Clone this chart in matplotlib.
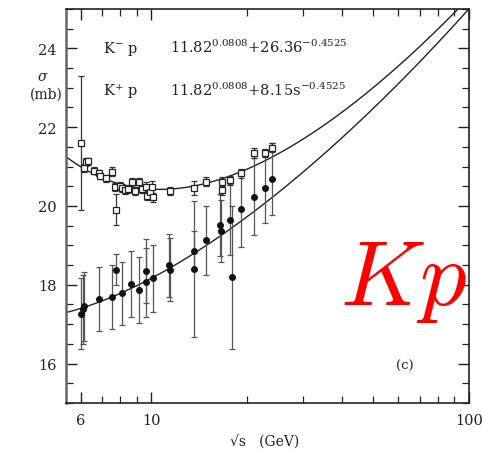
import numpy as np
import matplotlib
matplotlib.use("Agg")
import matplotlib.pyplot as plt
from matplotlib.ticker import FixedLocator, MultipleLocator, NullFormatter

# K- p total cross section (open squares)
km_rts = [6.02, 6.14, 6.24, 6.33, 6.63, 6.84, 6.91, 7.21, 7.55, 7.71, 7.77,
          7.99, 8.13, 8.29, 8.49, 8.70, 8.91, 9.17, 9.35, 9.62, 9.69, 9.93,
          10.09, 10.17, 11.47, 13.69, 14.93, 16.66, 16.66, 17.69, 19.24,
          21.08, 22.78, 24.01]
km_sig = [21.60, 20.96, 21.11, 21.13, 20.90, 20.83, 20.76, 20.70, 20.87, 20.48, 19.91,
          20.52, 20.45, 20.41, 20.43, 20.60, 20.39, 20.60, 20.43, 20.48, 20.26, 20.35,
          20.48, 20.22, 20.39, 20.46, 20.62, 20.62, 20.41, 20.65, 20.83,
          21.34, 21.35, 21.48]
km_err = [1.70, 0.10, 0.10, 0.10, 0.08, 0.08, 0.08, 0.08, 0.12, 0.10, 0.40,
          0.10, 0.10, 0.10, 0.10, 0.12, 0.10, 0.12, 0.10, 0.12, 0.12, 0.12,
          0.15, 0.12, 0.10, 0.17, 0.12, 0.12, 0.12, 0.12, 0.12,
          0.12, 0.10, 0.12]

# K+ p total cross section (filled points)
kp_rts = [6.02, 6.10, 6.17, 6.84, 7.52, 7.75, 8.11, 8.65, 9.17, 9.66, 9.66,
          10.13, 11.35, 11.50, 13.64, 13.64, 14.93, 16.43, 16.64, 17.69,
          17.99, 19.22, 21.06, 22.78, 24.01]
kp_sig = [17.27, 17.38, 17.45, 17.65, 17.69, 18.38, 17.78, 18.03, 17.87, 18.35, 18.06,
          18.16, 18.50, 18.38, 18.87, 18.40, 19.13, 19.52, 19.36, 19.65,
          18.19, 19.93, 20.24, 20.46, 20.69]
kp_err = [0.91, 0.87, 0.87, 0.81, 0.81, 0.39, 0.81, 0.84, 0.83, 0.81, 0.87,
          0.84, 0.80, 0.80, 0.50, 1.72, 0.88, 0.78, 0.78, 0.90,
          1.82, 0.97, 0.98, 0.90, 0.92]

# fit: sigma = X s^eps + Y s^-eta
X, eps, eta = 11.82, 0.0808, 0.4525
Y_km, Y_kp = 26.36, 8.15

fig = plt.figure(figsize=(4.82, 4.52), dpi=100)
ax = fig.add_axes([66/482, 1-404/452, 403/482, 394/452])
ax.set_xscale("log")
ax.set_xlim(5.4, 100)
ax.set_ylim(15, 25)

rts = np.geomspace(5.4, 100, 300)
s = rts**2
ax.plot(rts, X*s**eps + Y_km*s**(-eta), color="#222222", lw=1.0)
ax.plot(rts, X*s**eps + Y_kp*s**(-eta), color="#222222", lw=1.0)

ax.errorbar(kp_rts, kp_sig, yerr=kp_err, fmt="o", ms=4, mfc="#111111", mec="#111111",
            ecolor="#555555", elinewidth=0.9, capsize=2.5, capthick=0.9)
ax.errorbar(km_rts, km_sig, yerr=km_err, fmt="s", ms=3.8, mfc="white", mec="#222222",
            mew=0.9, ecolor="#333333", elinewidth=0.9, capsize=2.5, capthick=0.9)

# axes, ticks
ax.xaxis.set_major_locator(FixedLocator([6, 10, 100]))
ax.xaxis.set_minor_locator(FixedLocator([7, 8, 9, 20, 30, 40, 50, 60, 70, 80, 90]))
ax.xaxis.set_minor_formatter(NullFormatter())
ax.set_xticklabels(["6", "10", "100"])
ax.yaxis.set_major_locator(MultipleLocator(2))
ax.yaxis.set_minor_locator(MultipleLocator(0.5))
ax.tick_params(which="both", direction="in", top=True, right=True, color="#222222")
ax.tick_params(which="major", length=8, width=1.0, labelsize=10.5, pad=7)
ax.tick_params(which="minor", length=5, width=0.9)
for lab in ax.get_xticklabels() + ax.get_yticklabels():
    lab.set_family("DejaVu Serif")
    lab.set_color("#222222")
for side in ["top", "right", "bottom"]:
    ax.spines[side].set_linewidth(1.2)
    ax.spines[side].set_color("#222222")
ax.spines["left"].set_linewidth(1.8)
ax.spines["left"].set_color("#666666")

serif = dict(family="DejaVu Serif", color="#222222", math_fontfamily="dejavuserif")
fig.text(265/482, 1-443/452, "√s   (GeV)", ha="center", va="center", fontsize=10, **serif)
fig.text(43/482, 1-77/452, r"$\sigma$", ha="center", va="center", fontsize=10, **serif)
fig.text(46/482, 1-95/452, "(mb)", ha="center", va="center", fontsize=10, **serif)

fig.text(103/482, 1-53/452, r"K$^{-}$ p", ha="left", va="baseline", fontsize=10.5, **serif)
fig.text(170/482, 1-53/452, r"11.82$^{0.0808}$+26.36$^{-0.4525}$", ha="left",
         va="baseline", fontsize=10.5, **serif)
fig.text(103/482, 1-96/452, r"K$^{+}$ p", ha="left", va="baseline", fontsize=10.5, **serif)
fig.text(170/482, 1-96/452, r"11.82$^{0.0808}$+8.15s$^{-0.4525}$", ha="left",
         va="baseline", fontsize=10.5, **serif)
fig.text(405/482, 1-366/452, "(c)", ha="center", va="center", fontsize=9.5, **serif)

fig.text(340/482, 1-305/452, r"$Kp$", ha="left", va="baseline", fontsize=67,
         color="#ff0000", math_fontfamily="cm")

fig.savefig("out.png", dpi=100)
